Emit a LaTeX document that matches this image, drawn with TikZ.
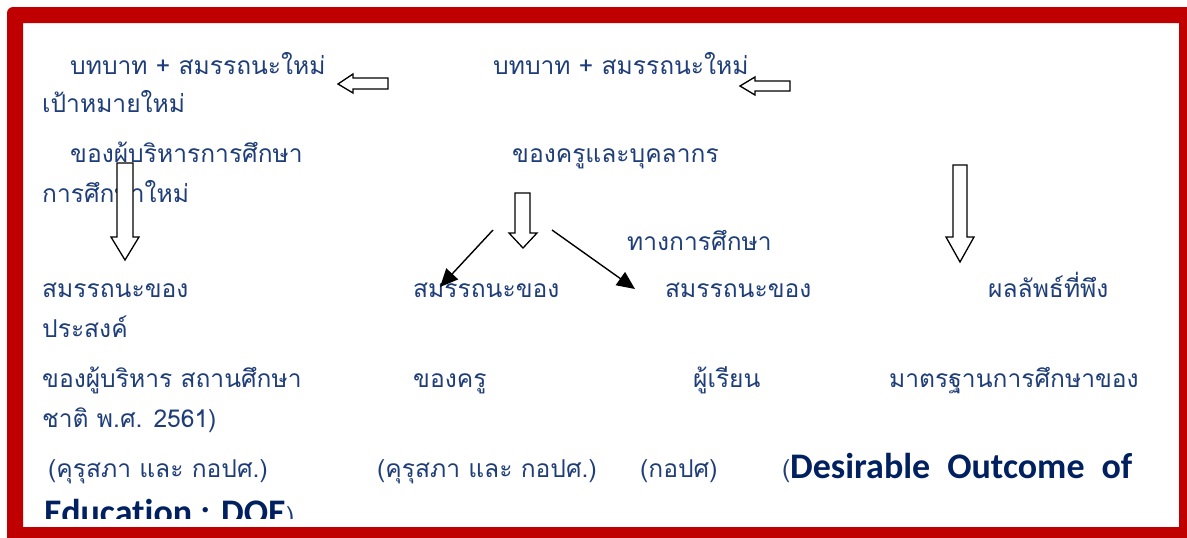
\documentclass[tikz,border=0pt]{standalone}
\usepackage{fontspec}
\newfontfamily\thaifont[Script=Thai]{Loma}
\newfontfamily\dofont[Ligatures={NoCommon}]{Carlito}
\usetikzlibrary{arrows.meta}
\definecolor{thaiblue}{HTML}{1F3E79}
\definecolor{dofblue}{HTML}{002060}
\definecolor{framered}{HTML}{C00000}
\tikzset{
  txt/.style={anchor=base west, inner sep=0pt, text=thaiblue, font=\thaifont\fontsize{24.6}{28}\selectfont},
  dof/.style={anchor=base west, inner sep=0pt, text=dofblue, font=\dofont\bfseries\fontsize{36}{40}\selectfont},
  blockarrow/.style={draw=black, fill=white, line width=1.3pt, line join=miter},
  thinarrow/.style={draw=black, line width=1.4pt, -{Triangle[length=18pt, width=16pt]}}
}
\begin{document}
\begin{tikzpicture}[x=1pt, y=-1pt]
\useasboundingbox (0,0) rectangle (1187,538);


% upper texts
\node[txt] (roleL)  at (70, 74)  {บทบาท + สมรรถนะใหม่};
\node[txt] (goal)   at (42, 112) {เป้าหมายใหม่};
\node[txt] (adminL) at (70, 162) {ของผู้บริหารการศึกษา};
\node[txt] (eduL)   at (42, 202) {การศึกษาใหม่};

\node[txt] (roleM)    at (493, 74)  {บทบาท + สมรรถนะใหม่};
\node[txt] (teacherM) at (512, 162) {ของครูและบุคลากร};
\node[txt] (eduM)     at (627, 250) {ทางการศึกษา};


% lower rows
\node[txt] (compA) at (42, 297)  {สมรรถนะของ};
\node[txt] (compT) at (413, 297) {สมรรถนะของ};
\node[txt] (compS) at (665, 297) {สมรรถนะของ};
\node[txt] (outc)  at (988, 297) {ผลลัพธ์ที่พึง};

\node[txt] (wish)  at (42, 337) {ประสงค์};

\node[txt] (ofA)   at (42, 387)  {ของผู้บริหาร สถานศึกษา};
\node[txt] (ofT)   at (413, 387) {ของครู};
\node[txt] (ofS)   at (693, 387) {ผู้เรียน};
\node[txt] (std)   at (889, 387) {มาตรฐานการศึกษาของ};

\node[txt] (nat)   at (42, 427) {ชาติ พ.ศ. 2561)};

\node[txt] (srcA)  at (48, 477)  {(คุรุสภา และ กอปศ.)};
\node[txt] (srcT)  at (377, 477) {(คุรุสภา และ กอปศ.)};
\node[txt] (srcS)  at (640, 477) {(กอปศ)};
\node[txt] (paren) at (782, 477) {(};
\node[dof] (dofA)  at (790, 478) {Desirable\hspace{17pt}Outcome\hspace{17pt}of};

\begin{scope}
\clip (23,23) rectangle (1179,518);
\node[dof] (dofB)  at (44, 524) {Education : DOE};
\node[txt] (parenB) at (dofB.base east) {)};
\end{scope}


% block arrows
\draw[blockarrow] (388,78) -- (353,78) -- (353,74) -- (338,84) -- (353,93) -- (353,89) -- (388,89) -- cycle;
\draw[blockarrow] (790,81) -- (755,81) -- (755,77) -- (740,86) -- (755,95) -- (755,91) -- (790,91) -- cycle;

\draw[blockarrow] (117,163) -- (133,163) -- (133,237) -- (139,237) -- (125,260) -- (111,237) -- (117,237) -- cycle;
\draw[blockarrow] (515,193) -- (530,193) -- (530,233) -- (537,233) -- (523,248) -- (509,233) -- (515,233) -- cycle;
\draw[blockarrow] (953,165) -- (967,165) -- (967,237) -- (974,237) -- (960,262) -- (946,237) -- (953,237) -- cycle;


% thin arrows
\coordinate (splitL) at (493,230);
\coordinate (splitR) at (552,230);
\coordinate (tipL)   at (440,287);
\coordinate (tipR)   at (635,289);
\draw[thinarrow] (splitL) -- (tipL);
\draw[thinarrow] (splitR) -- (tipR);


% frame
\fill[framered, even odd rule, rounded corners=6pt] (7,7) rectangle (1200,550)
  {[sharp corners] (23,23) rectangle (1179,527)};

\end{tikzpicture}
\end{document}
